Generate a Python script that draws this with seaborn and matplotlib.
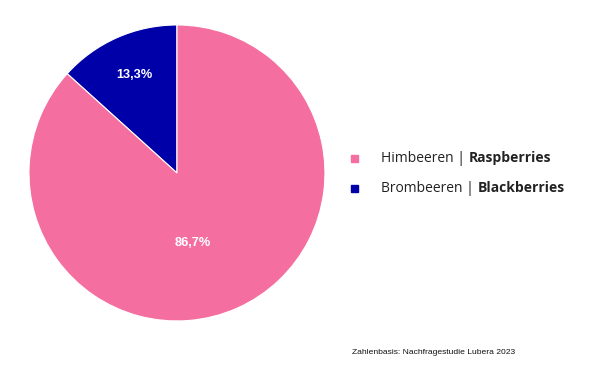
import matplotlib
matplotlib.use("Agg")
import matplotlib.pyplot as plt
import seaborn as sns
import numpy as np

categories_de = ["Brombeeren", "Himbeeren"]
categories_en = ["Blackberries", "Raspberries"]
values = [13.3, 86.7]
value_labels = ["13,3%", "86,7%"]
colors = ["#0000A8", "#F46FA0"]
legend_order = [1, 0]
footnote = "Zahlenbasis: Nachfragestudie Lubera 2023"

sns.set_theme(style="white")
plt.rcParams['font.family'] = ['Open Sans', 'DejaVu Sans']

fig = plt.figure(figsize=(6, 3.72), dpi=100)
ax = fig.add_axes([0.295 - 0.2467, 0.535 - 0.3978, 0.4933, 0.7957])
wedges, _ = ax.pie(values, colors=colors, startangle=90, counterclock=True,
                   wedgeprops=dict(linewidth=0.8, edgecolor="white"))
ax.set_aspect("equal")
ax.set_xlim(-1, 1)
ax.set_ylim(-1, 1)

# percentage labels
label_pos = [(-0.29, 0.66), (0.11, -0.47)]
for (x, y), lab in zip(label_pos, value_labels):
    ax.text(x, y, lab, ha="center", va="center", color="white",
            fontsize=9.2, fontweight="bold", family="Liberation Sans")

# custom legend
fig.canvas.draw()
renderer = fig.canvas.get_renderer()
rows_y = [1 - 158 / 372, 1 - 188 / 372]
for row, idx in enumerate(legend_order):
    y = rows_y[row]
    fig.patches.append(plt.Rectangle((351 / 600, y - 3.5 / 372), 7 / 600, 7 / 372,
                                     transform=fig.transFigure, color=colors[idx]))
    t1 = fig.text(381 / 600, y, categories_de[idx] + " | ", fontsize=10,
                  va="center", ha="left", color="#222222")
    bb = t1.get_window_extent(renderer=renderer)
    fig.text(bb.x1 / fig.bbox.width, y, categories_en[idx], fontsize=10,
             va="center", ha="left", fontweight="bold", color="#222222")

fig.text(352 / 600, 1 - 352 / 372, footnote, fontsize=6.1, va="center", ha="left",
         family="Liberation Sans", color="#111111")

fig.savefig("out.png", dpi=100)
